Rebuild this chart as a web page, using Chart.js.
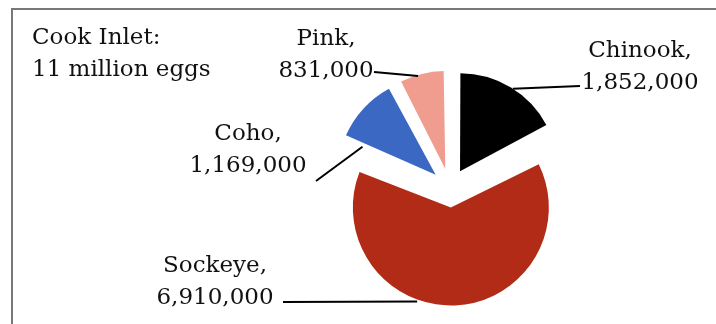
<!DOCTYPE html>
<html>
<head>
<meta charset="utf-8">
<title>Cook Inlet eggs</title>
<script src="https://cdn.jsdelivr.net/npm/chart.js@4/dist/chart.umd.min.js"></script>
<style>
  html, body { margin: 0; padding: 0; background: #fff; }
  canvas { display: block; }
</style>
</head>
<body>
<canvas id="eggsPieChart" width="716" height="324"></canvas>
<script>
"use strict";

// egg take by species
var species = ["Chinook", "Sockeye", "Coho", "Pink"];
var eggs = [1852000, 6910000, 1169000, 831000];
var colores = ["#000000", "#b12b17", "#3a68c3", "#f09d8f"];
var titulo = ["Cook Inlet:", "11 million eggs"];

// where the labels sit and where their leader lines go
var labelX = [640, 215, 248, 326];
var labelY = [57, 272, 140, 45];
var leaderAngle = [32.6, 199.7, 291, 343.7]; // degrees, clockwise from top
var leaderReach = [1.0, 1.02, 0.8, 0.99];
var leaderEnd = [[580, 86], [283, 302], [316, 181], [374, 72]];

var pieRadius = 98;
var sliceOffset = 78; // chart.js moves each slice by offset / 4
var fuente = "23px 'DejaVu Serif'";
var interlineado = 31.7;

//------------------
//- FRAME PLUGIN -
//------------------
var marco = {
  id: "marco",
  beforeDraw: function (chart) {
    var ctx = chart.ctx;
    ctx.save();
    ctx.fillStyle = "#fff";
    ctx.fillRect(0, 0, chart.width, chart.height);
    ctx.strokeStyle = "#787878";
    ctx.lineWidth = 2;
    ctx.strokeRect(12, 9, 800, 400);
    ctx.restore();
  }
};

// keep every exploded slice at the same radius (arc.draw grows some of them)
var radioFijo = {
  id: "radioFijo",
  beforeDatasetsDraw: function (chart) {
    chart.getDatasetMeta(0).data.forEach(function (arc) {
      var fix = 1 - Math.sin(Math.min(Math.PI, arc.circumference));
      arc.outerRadius = pieRadius - (sliceOffset / 4) * fix;
    });
  }
};

//-------------------------
//- LABELS + LEADER LINES -
//-------------------------
var etiquetas = {
  id: "etiquetas",
  afterDatasetsDraw: function (chart) {
    var ctx = chart.ctx;
    var arcs = chart.getDatasetMeta(0).data;
    ctx.save();
    ctx.font = fuente;
    ctx.fillStyle = "#111";
    ctx.textBaseline = "alphabetic";

    ctx.textAlign = "left";
    titulo.forEach(function (linea, i) {
      ctx.fillText(linea, 32, 44 + i * interlineado);
    });

    arcs.forEach(function (arc, i) {
      var mitad = (arc.startAngle + arc.endAngle) / 2;
      var cx = arc.x + Math.cos(mitad) * sliceOffset / 4;
      var cy = arc.y + Math.sin(mitad) * sliceOffset / 4;
      var a = -Math.PI / 2 + leaderAngle[i] * Math.PI / 180;
      var px = cx + Math.cos(a) * pieRadius * leaderReach[i];
      var py = cy + Math.sin(a) * pieRadius * leaderReach[i];

      ctx.strokeStyle = "#000";
      ctx.lineWidth = 2;
      ctx.beginPath();
      ctx.moveTo(px, py);
      ctx.lineTo(leaderEnd[i][0], leaderEnd[i][1]);
      ctx.stroke();

      ctx.textAlign = "center";
      ctx.fillText(species[i] + ",", labelX[i], labelY[i]);
      ctx.fillText(eggs[i].toLocaleString("en-US"), labelX[i], labelY[i] + interlineado);
    });
    ctx.restore();
  }
};

//-------------
//- PIE CHART -
//-------------
var pieCanvas = document.getElementById("eggsPieChart").getContext("2d");
var pieChart = new Chart(pieCanvas, {
  type: "pie",
  data: {
    labels: species,
    datasets: [
      {
        data: eggs,
        backgroundColor: colores,
        borderWidth: 0,
        offset: sliceOffset,
        hoverOffset: 0
      }
    ]
  },
  options: {
    responsive: false,
    animation: false,
    radius: pieRadius,
    layout: { padding: { left: 184, right: 0, top: 52, bottom: 0 } },
    events: [],
    plugins: {
      legend: { display: false },
      tooltip: { enabled: false }
    }
  },
  plugins: [marco, radioFijo, etiquetas]
});
</script>
</body>
</html>
